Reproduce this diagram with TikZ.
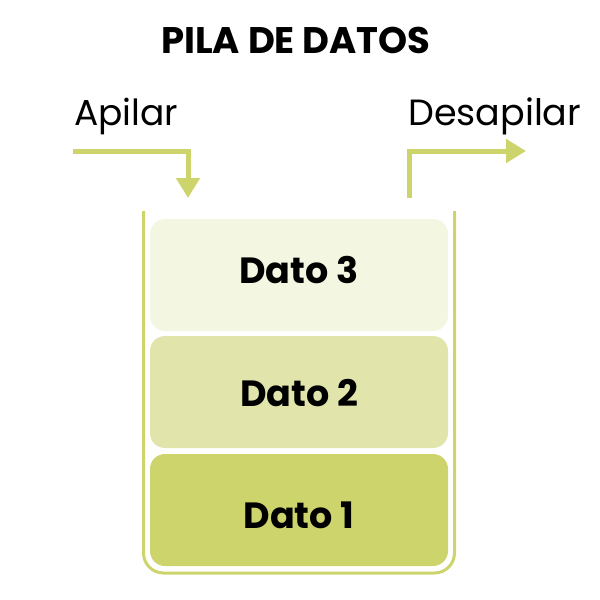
\documentclass[tikz,border=0pt]{standalone}
\usepackage{fontspec}
\setmainfont{Poppins}
\usepackage{tikz}
\usetikzlibrary{arrows.meta}

\definecolor{olive}{HTML}{CDD46B}
\definecolor{olivemid}{HTML}{E1E5AC}
\definecolor{olivelight}{HTML}{F3F6E1}

\tikzset{
  databox/.style={rounded corners=15pt, minimum width=298pt, minimum height=112pt,
    inner sep=0pt},
  datotext/.style={inner sep=0pt, font=\fontsize{36.5}{36.5}\selectfont\bfseries},
  flow/.style={draw=olive, line width=5pt, miter limit=10,
    -{Triangle[width=23pt,length=20pt]}, color=olive},
}

\begin{document}
\begin{tikzpicture}[x=1pt,y=-1pt]
        \useasboundingbox (0,0) rectangle (600,600);
        % title and labels
        \node[anchor=base, font=\fontsize{37}{37}\selectfont\bfseries] (title) at (296,53) {PILA DE DATOS};
        \node[anchor=base west, inner sep=0pt, font=\fontsize{36}{36}\selectfont] (push) at (74,125) {Apilar};
        \node[anchor=base west, inner sep=0pt, font=\fontsize{36.5}{36.5}\selectfont] (pop) at (408,125) {Desapilar};
        % container of the stack
        \draw[olive, line width=3pt, rounded corners=20pt]
          (143.5,211) -- (143.5,573) -- (454.5,573) -- (454.5,211);
        % the data
        \node[databox, fill=olivelight] (d3) at (299,275) {};
        \node[databox, fill=olivemid] (d2) at (299,392) {};
        \node[databox, fill=olive] (d1) at (299,510) {};
        \node[datotext] (t3) at ([yshift=4.5pt]d3.center) {Dato 3};
        \node[datotext] (t2) at ([yshift=-1pt]d2.center) {Dato 2};
        \node[datotext] (t1) at ([yshift=-5pt]d1.center) {Dato 1};
        % arrows in and out
        \coordinate (pushstart) at (73,151);
        \coordinate (pushend) at (188,198);
        \coordinate (popstart) at (409,198);
        \coordinate (popend) at (526,151);
        \draw[flow] (pushstart) -| (pushend);
        \draw[flow] (popstart) |- (popend);
      \end{tikzpicture}
\end{document}
